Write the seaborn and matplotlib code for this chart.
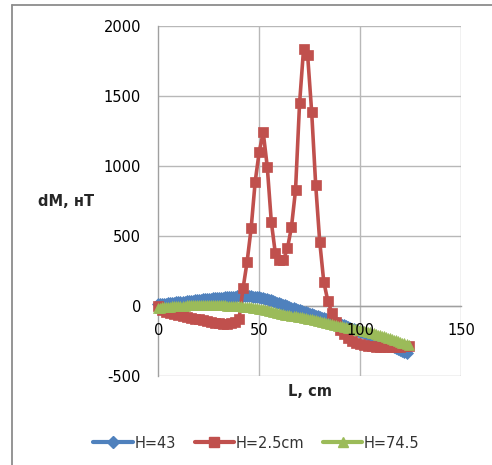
import matplotlib
matplotlib.use("Agg")
import matplotlib.pyplot as plt
import seaborn as sns
import pandas as pd
from matplotlib.lines import Line2D

# ---- data ----
x_h43 = list(range(0, 124))
y_h43 = [10, 12, 13, 15, 16, 18, 19, 21, 22, 24,
         25, 27, 28, 30, 31, 33, 35, 37, 38, 40,
         42, 44, 45, 47, 48, 50, 51, 53, 54, 56,
         57, 58, 59, 61, 62, 63, 64, 65, 66, 67,
         68, 68, 69, 69, 68, 68, 67, 65, 64, 62,
         60, 57, 53, 50, 46, 42, 38, 33, 28, 23,
         18, 13, 7, 2, -4, -9, -14, -18, -23, -27,
         -32, -37, -42, -46, -51, -56, -61, -66, -70, -75,
         -80, -85, -90, -95, -100, -105, -110, -115, -120, -125,
         -130, -136, -141, -147, -152, -158, -163, -169, -174, -180,
         -185, -191, -197, -203, -209, -215, -221, -227, -233, -239,
         -245, -252, -258, -265, -271, -278, -285, -293, -300, -308,
         -315, -323, -332, -340]

x_h25 = list(range(0, 125, 2))
y_h25 = [0, -30, -45, -55, -62, -68, -74, -80, -86, -92,
         -98, -104, -110, -115, -120, -124, -127, -128, -126, -118,
         -95, 124, 314, 553, 886, 1100, 1239, 993, 600, 374,
         326, 326, 410, 564, 826, 1446, 1839, 1791, 1386, 862,
         457, 171, 35, -50, -115, -170, -205, -230, -250, -265,
         -275, -282, -287, -290, -292, -293, -294, -294, -294, -293,
         -292, -291, -290]

x_h745 = list(range(0, 125))
y_h745 = [-15, -13, -12, -10, -9, -8, -7, -5, -4, -3,
          -2, -1, 0, 1, 2, 3, 4, 4, 5, 5,
          6, 6, 6, 6, 6, 6, 6, 5, 5, 4,
          4, 3, 2, 2, 1, 0, -1, -2, -3, -4,
          -5, -5, -6, -7, -7, -8, -10, -13, -15, -18,
          -20, -23, -26, -30, -33, -36, -40, -44, -48, -51,
          -55, -58, -60, -63, -65, -68, -70, -73, -75, -78,
          -80, -83, -86, -89, -92, -95, -98, -102, -105, -109,
          -112, -115, -118, -122, -125, -128, -131, -135, -138, -142,
          -145, -148, -151, -154, -157, -160, -162, -165, -167, -170,
          -172, -176, -179, -183, -186, -190, -194, -198, -202, -206,
          -210, -215, -219, -224, -228, -233, -238, -243, -248, -253,
          -258, -264, -269, -275, -280]

series_labels = ["H=43", "H=2.5cm", "H=74.5"]
series_colors = ["#4F81BD", "#C0504D", "#9BBB59"]
x_ticks = [0, 50, 100, 150]
y_ticks = [-500, 0, 500, 1000, 1500, 2000]
x_label = "L, cm"
y_label = "dM, нТ"

# ---- figure ----
sns.set_theme(style="white")
plt.rcParams["font.family"] = ["DejaVu Sans"]
plt.rcParams["axes.unicode_minus"] = False

W, H = 492, 465
fig = plt.figure(figsize=(W / 100, H / 100), dpi=100)
ax = fig.add_axes([158.3 / W, 1 - 375.7 / H, (461 - 158.3) / W, (375.7 - 26) / H])
ax.set_axisbelow(False)

data = [
    (x_h43, y_h43, "D", 6.0),
    (x_h25, y_h25, "s", 7.6),
    (x_h745, y_h745, "^", 7.0),
]
for (xs, ys, mk, ms), lab, col in zip(data, series_labels, series_colors):
    df = pd.DataFrame({"x": xs, "y": ys})
    sns.lineplot(data=df, x="x", y="y", ax=ax, color=col, marker=mk,
                 markersize=ms, markeredgecolor=col, markeredgewidth=0.5,
                 linewidth=2.6, estimator=None, sort=False, label=lab,
                 clip_on=False, zorder=2)

ax.set_xlim(x_ticks[0], x_ticks[-1])
ax.set_ylim(y_ticks[0], y_ticks[-1])
ax.set_xticks(x_ticks)
ax.set_yticks(y_ticks)
ax.set_xlabel("")
ax.set_ylabel("")

grid_c = "#b8b8b8"
for yv in y_ticks:
    ax.axhline(yv, color=grid_c, lw=1.0, zorder=0.5)
for xv in x_ticks[1:]:
    ax.axvline(xv, color=grid_c, lw=1.0, zorder=0.5)

for s in ["top", "right"]:
    ax.spines[s].set_visible(False)
ax.spines["left"].set_color("#a0a0a0")
ax.spines["left"].set_linewidth(1.0)
ax.spines["left"].set_zorder(0.6)
ax.spines["bottom"].set_position(("data", 0))
ax.spines["bottom"].set_color("#a0a0a0")
ax.spines["bottom"].set_linewidth(1.0)
ax.spines["bottom"].set_zorder(0.6)

ax.tick_params(axis="both", length=0, labelsize=10.5, colors="#000000")
ax.tick_params(axis="x", pad=12.5)
ax.tick_params(axis="y", pad=12.5)

ax.legend_.remove()

fig.text(38 / W, 1 - 201.7 / H, y_label, ha="left", va="center",
         fontsize=10.5, fontweight="bold")
fig.text(309.7 / W, 1 - 391 / H, x_label, ha="center", va="center",
         fontsize=10.5, fontweight="bold")

handles = [Line2D([0], [0], color=c, marker=m, markersize=s,
                  markeredgecolor=c, linewidth=3.0)
           for c, (_, _, m, s) in zip(series_colors, data)]
fig.legend(handles, series_labels, loc="center",
           bbox_to_anchor=(256.5 / W, 1 - 443 / H), ncol=3, frameon=False,
           fontsize=10.5, handlelength=2.7, handletextpad=0.1,
           columnspacing=1.3, labelcolor="#333333")

# outer chart border
fig.add_artist(Line2D([12 / W, 12 / W], [0, 1 - 5 / H], transform=fig.transFigure,
                      color="#8c8c8c", lw=1.3))
fig.add_artist(Line2D([12 / W, 1], [1 - 5 / H, 1 - 5 / H], transform=fig.transFigure,
                      color="#8c8c8c", lw=1.3))

fig.savefig("out.png", dpi=100)
